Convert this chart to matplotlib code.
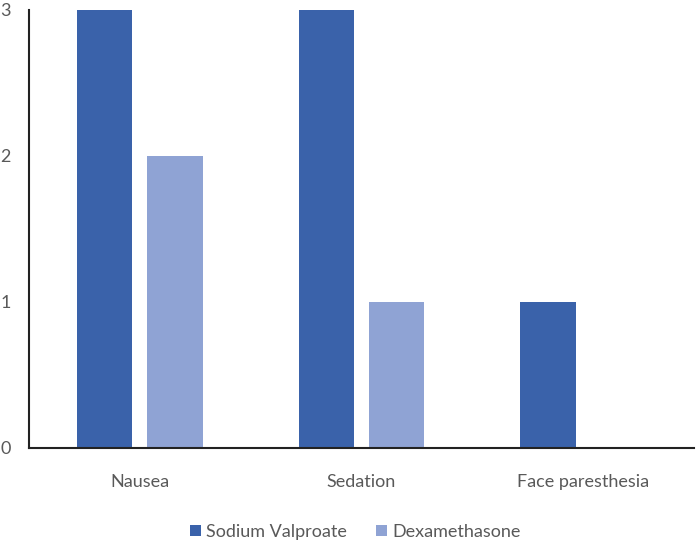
import numpy as np
import matplotlib.pyplot as plt

categories = ['Nausea', 'Sedation', 'Face paresthesia']
valproate = [3, 3, 1]
dexamethasone = [2, 1, 0]
y_ticks = [0, 1, 2, 3]

plt.rcParams['font.family'] = ['Lato', 'DejaVu Sans']

fig = plt.figure(figsize=(6.96, 5.44), dpi=100)
ax = fig.add_axes([29 / 696, 1 - 448 / 544, 665 / 696, 438 / 544])

x = np.arange(len(categories))
w = 0.25
gap = 0.068
ax.bar(x - (w + gap) / 2, valproate, w, color='#3A62AA', label='Sodium Valproate')
ax.bar(x + (w + gap) / 2, dexamethasone, w, color='#8FA3D4', label='Dexamethasone')

ax.set_xlim(-0.5, 2.5)
ax.set_ylim(0, 3)
ax.set_yticks(y_ticks)
ax.set_xticks(x)
ax.set_xticklabels(categories)
ax.tick_params(length=0, labelsize=13, colors='#595959')
ax.tick_params(axis='x', pad=19)
ax.tick_params(axis='y', pad=13)

for s in ['top', 'right']:
    ax.spines[s].set_visible(False)
for s in ['left', 'bottom']:
    ax.spines[s].set_color('#222222')
    ax.spines[s].set_linewidth(1.5)

fig.legend(loc='center', bbox_to_anchor=(355 / 696, 1 - 532 / 544), ncol=2,
           frameon=False, fontsize=13, handlelength=0.6, handleheight=0.6,
           columnspacing=1.6, handletextpad=0.3, labelcolor='#595959')

fig.savefig('out.png', dpi=100)
